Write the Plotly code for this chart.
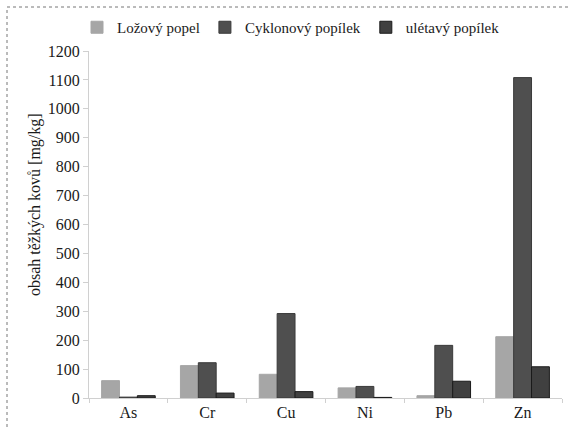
import plotly.graph_objects as go

categories = ["As", "Cr", "Cu", "Ni", "Pb", "Zn"]
lozovy = [60, 112, 82, 35, 8, 212]
cyklonovy = [3, 122, 292, 40, 182, 1108]
uletavy = [8, 17, 22, 2, 58, 108]
series_names = ["Ložový popel", "Cyklonový popílek", "ulétavý popílek"]
colors = ["#a6a6a6", "#4f4f4f", "#404040"]
edge = ["#a6a6a6", "#3a3a3a", "#1a1a1a"]

fig = go.Figure()
for name, vals, c, e in zip(series_names, [lozovy, cyklonovy, uletavy], colors, edge):
    fig.add_trace(go.Bar(x=categories, y=vals, name=name,
                         marker=dict(color=c, line=dict(width=1, color=e))))

font = "Liberation Serif"
L, R, T, B = 89, 6, 51, 32
W, H = 568, 430
pw, ph = W - L - R, H - T - B
fig.update_layout(
    width=W, height=H,
    margin=dict(l=L, r=R, t=T, b=B, autoexpand=False),
    paper_bgcolor="white", plot_bgcolor="white",
    barmode="group", bargap=0.32, bargroupgap=0,
    font=dict(family=font, size=16, color="#1a1a1a"),
    legend=dict(orientation="h", x=(291 - L) / pw, xanchor="center", y=1 + 7 / ph, yanchor="bottom",
                font=dict(family=font, size=15, color="#1a1a1a"),
                tracegroupgap=0, itemwidth=30),
    showlegend=True,
    xaxis=dict(showline=True, linecolor="#d0d0d0", linewidth=1, ticks="outside",
               tickcolor="#d0d0d0", ticklen=4, tickson="boundaries",
               tickfont=dict(family=font, size=16, color="#1a1a1a")),
    yaxis=dict(range=[0, 1200], dtick=100, showgrid=False, showline=True, linecolor="#d0d0d0",
               ticks="outside", tickcolor="#d0d0d0", ticklen=5, zeroline=False,
               tickfont=dict(family=font, size=16, color="#1a1a1a")),
    annotations=[dict(text="obsah těžkých kovů [mg/kg]", textangle=-90, showarrow=False,
                      xref="paper", yref="paper", x=(35 - L) / pw, y=1 - (205 - T) / ph,
                      xanchor="center", yanchor="middle",
                      font=dict(family=font, size=16, color="#1a1a1a"))],
    shapes=[dict(type="rect", xref="paper", yref="paper",
                 x0=(7 - L) / pw, x1=(575 - L) / pw, y0=1 - (440 - T) / ph, y1=1 + (T - 7) / ph,
                 line=dict(color="#777", width=1, dash="dot"))],
)
fig.write_html("out.html", config={"displayModeBar": False},
               post_script="document.body.style.margin='0';document.body.style.padding='0';")
